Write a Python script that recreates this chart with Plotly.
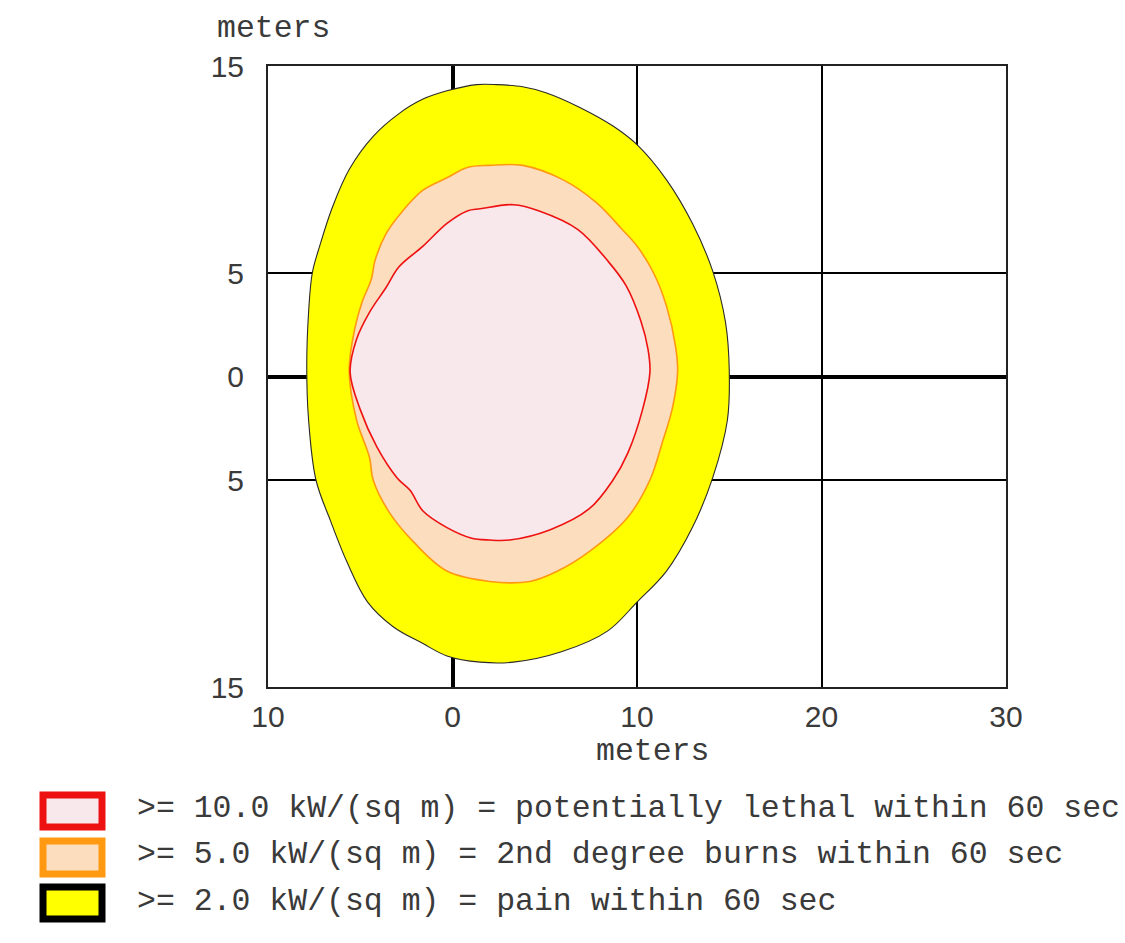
import plotly.graph_objects as go

# Threat zone footprints (metres downwind / crosswind)
pain_x = [-1.6, -0.3, 1.3, 2.4, 3.8, 5.1, 6.9, 8.7, 10.0, 11.6, 13.0, 14.1, 14.8, 15.0, 14.9, 14.1,
          13.0, 11.6, 10.0, 8.4, 5.9, 3.3, 1.5, -0.3, -1.6, -3.2, -4.6, -5.7, -6.6, -7.4, -7.8,
          -7.9, -7.8, -7.6, -7.2, -6.5, -5.6, -4.3, -2.9]
pain_y = [13.4, 13.8, 14.1, 14.1, 14.0, 13.7, 13.0, 12.1, 11.2, 9.5, 7.4, 5.1, 2.6, 0.3, -2.1, -4.9,
          -7.3, -9.4, -10.9, -12.3, -13.3, -13.8, -13.8, -13.5, -12.9, -12.1, -10.9, -9.0, -7.0,
          -5.0, -2.1, 0.5, 3.1, 5.0, 6.3, 8.2, 10.0, 11.6, 12.7]

burn_x = [0.8, 2.0, 3.8, 6.0, 7.8, 9.2, 10.0, 10.9, 11.6, 12.1, 12.2, 11.9, 11.4, 10.7, 9.5, 7.5,
          5.7, 4.2, 2.0, -0.3, -2.1, -3.4, -4.3, -4.5, -5.2, -5.6, -5.3, -4.9, -4.4, -4.2, -3.6,
          -2.7, -1.6, -0.3]
burn_y = [10.1, 10.2, 10.2, 9.5, 8.4, 7.1, 6.3, 5.0, 3.4, 1.4, 0.2, -1.6, -3.1, -5.0, -6.8, -8.4,
          -9.4, -9.9, -9.9, -9.4, -8.0, -6.6, -5.0, -3.9, -2.1, 0.3, 2.3, 3.6, 4.7, 5.6, 6.9,
          8.0, 9.0, 9.6]

lethal_x = [0.8, 1.5, 3.3, 4.7, 6.8, 8.4, 9.4, 10.2, 10.6, 10.7, 10.3, 9.5, 8.7, 7.4, 5.3, 3.1,
            2.0, 1.0, -0.3, -1.6, -2.3, -3.0, -4.1, -5.0, -5.55, -5.2, -4.5, -3.6, -2.9,
            -1.6, -0.3]
lethal_y = [8.0, 8.1, 8.3, 8.0, 7.1, 5.6, 4.4, 2.7, 1.3, 0.2, -1.6, -3.7, -5.0, -6.4, -7.4, -7.9,
            -7.9, -7.8, -7.3, -6.5, -5.5, -4.9, -3.4, -1.6, 0.2, 1.8, 3.1, 4.3, 5.3,
            6.3, 7.4]

x_tick_vals = [-10, 0, 10, 20, 30]
x_tick_text = ["10", "0", "10", "20", "30"]
y_tick_vals = [-15, -5, 0, 5, 15]
y_tick_text = ["15", "5", "0", "5", "15"]

legend_labels = [
    ">= 10.0 kW/(sq m) = potentially lethal within 60 sec",
    ">= 5.0 kW/(sq m) = 2nd degree burns within 60 sec",
    ">= 2.0 kW/(sq m) = pain within 60 sec",
]
legend_edge = ["#EE1111", "#FF9911", "#000000"]
legend_fill = ["#F8E8EC", "#FCDDBE", "#FFFF00"]

W, H = 1125, 943
L, R, T, B = 268, 1006, 66, 687
MONO = "Liberation Mono, Courier New, monospace"
SANS = "Liberation Sans, Arial, sans-serif"
TEXT = "#3a3a3a"


def px(xp):
    return (xp - L) / (R - L)


def py(yp):
    return (B - yp) / (B - T)


def closed(a):
    return list(a) + [a[0]]


fig = go.Figure()
zones = [
    (pain_x, pain_y, "#FFFF00", "#2a2a2a", 1.1),
    (burn_x, burn_y, "#FCDDBE", "#FF9911", 1.6),
    (lethal_x, lethal_y, "#F8E8EC", "#EE1111", 1.6),
]
for xs, ys, fc, lc, lw in zones:
    fig.add_trace(go.Scatter(
        x=closed(xs), y=closed(ys), mode="lines", fill="toself",
        fillcolor=fc, line=dict(color=lc, width=lw, shape="spline", smoothing=1.0),
        hoverinfo="skip", showlegend=False,
    ))

axis_common = dict(
    showgrid=True, gridcolor="#000000", gridwidth=1.5,
    zeroline=True, zerolinecolor="#000000", zerolinewidth=4,
    showline=True, linecolor="#222222", linewidth=2, mirror=True,
    ticks="", layer="above traces",
    tickfont=dict(family=SANS, size=30, color=TEXT),
)
fig.update_xaxes(range=[-10, 30], tickmode="array", tickvals=x_tick_vals,
                 ticktext=x_tick_text, ticklabelstandoff=2, **axis_common)
fig.update_yaxes(range=[-15, 15], tickmode="array", tickvals=y_tick_vals,
                 ticktext=y_tick_text, ticklabelstandoff=16, **axis_common)

annotations = [
    dict(text="meters", x=px(215), y=py(29), xanchor="left", yanchor="middle"),
    dict(text="meters", x=px(652), y=py(751), xanchor="center", yanchor="middle"),
]
shapes = []
rows_y = [(795, 827), (841, 874), (887, 919)]
text_y = [808, 855, 901]
for lab, ec, fc, (y0, y1), ty in zip(legend_labels, legend_edge, legend_fill, rows_y, text_y):
    shapes.append(dict(type="rect", xref="paper", yref="paper",
                       x0=px(43), x1=px(102), y0=py(y1), y1=py(y0),
                       line=dict(color=ec, width=7), fillcolor=fc))
    annotations.append(dict(text=lab, x=px(135), y=py(ty), xanchor="left", yanchor="middle"))

for a in annotations:
    a.update(xref="paper", yref="paper", showarrow=False,
             font=dict(family=MONO, size=31.5, color=TEXT))

fig.update_layout(
    width=W, height=H, autosize=False,
    margin=dict(l=L, r=W - R, t=T, b=H - B, pad=0),
    paper_bgcolor="white", plot_bgcolor="white",
    annotations=annotations, shapes=shapes, showlegend=False,
)

fig.write_html("out.html")
